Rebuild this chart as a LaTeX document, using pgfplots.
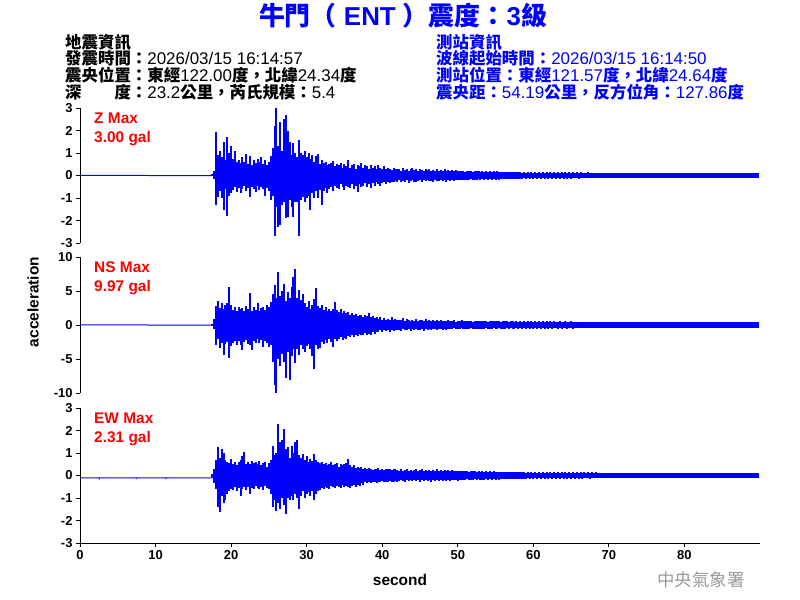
\documentclass[border=0pt]{standalone}
\usepackage{fontspec}
\setmainfont{Liberation Sans}
\newfontfamily\cjk{Noto Sans CJK TC}
\usepackage{pgfplots}
\usepackage{pgfplotstable}
\pgfplotsset{compat=1.18}
\definecolor{tblue}{RGB}{0,0,255}
\definecolor{tred}{RGB}{255,0,0}
\newcommand{\C}[1]{{\cjk\bfseries\fontsize{16.5}{16.5}\selectfont #1}}
\newcommand{\T}[1]{{\cjk\bfseries #1}}
\newcommand{\fs}[1]{\fontsize{#1}{#1}\selectfont}
\pgfplotstableread{
x zh zl nh nl eh el
17.50 0.05 -0.03 0.2 -0.1 0.05 -0.05
17.75 0.2 -0.15 0.9 -0.6 0.3 -0.35
18.00 1.95 -1.3 2.8 -3.0 0.7 -0.6
18.25 0.9 -0.95 3.6 -2.0 1.26 -1.41
18.50 1.1 -0.7 2.5 -3.4 0.8 -1.63
18.75 0.8 -1.0 3.3 -2.6 1.19 -0.9
19.00 1.5 -1.55 2.4 -4.4 1.0 -1.2
19.25 0.7 -0.6 2.9 -2.8 0.7 -1.1
19.50 1.7 -1.78 3.2 -2.5 0.6 -0.8
19.75 1.0 -0.9 5.6 -4.9 0.55 -0.7
20.00 1.3 -0.8 3.0 -3.1 0.75 -0.6
20.25 0.75 -0.65 2.2 -2.6 0.5 -0.65
20.50 1.1 -0.5 2.6 -2.3 0.6 -0.5
20.75 0.6 -0.75 2.0 -3.0 0.45 -0.7
21.00 0.7 -0.55 2.7 -2.4 0.6 -0.55
21.25 0.55 -0.8 2.3 -2.9 0.7 -0.89
21.50 0.8 -0.6 2.5 -3.7 0.85 -0.6
21.75 0.6 -0.45 2.1 -2.5 1.04 -0.5
22.00 0.96 -0.7 2.8 -2.2 0.5 -0.65
22.25 0.5 -0.55 2.4 -2.8 0.6 -0.5
22.50 0.85 -0.96 4.7 -3.0 0.5 -0.8
22.75 0.45 -0.5 2.0 -3.7 0.65 -0.55
23.00 0.7 -0.6 2.6 -2.3 0.55 -0.6
23.25 0.55 -0.75 2.2 -2.6 0.6 -0.45
23.50 0.75 -0.45 3.2 -2.1 0.5 -0.55
23.75 0.6 -0.65 2.1 -2.7 0.65 -0.6
24.00 0.8 -0.5 2.5 -2.2 0.45 -0.5
24.25 0.5 -0.6 2.7 -3.3 0.55 -0.65
24.50 0.7 -0.9 2.2 -2.4 0.6 -0.45
24.75 0.45 -0.55 3.0 -2.6 0.4 -0.55
25.00 0.6 -0.7 2.6 -3.2 0.55 -0.6
25.25 0.85 -1.1 3.4 -3.0 0.7 -0.8
25.50 1.2 -0.9 4.5 -5.5 1.33 -1.4
25.75 2.2 -2.67 5.9 -8.8 0.9 -1.1
26.00 3.0 -1.4 4.0 -10.0 1.0 -1.56
26.25 1.3 -2.3 7.8 -5.0 2.3 -1.2
26.50 2.37 -2.2 4.2 -6.0 1.5 -1.5
26.75 1.1 -1.3 5.0 -4.3 1.6 -1.0
27.00 2.5 -1.2 6.1 -5.5 2.07 -1.3
27.25 2.67 -1.9 3.5 -7.8 1.2 -1.7
27.50 2.0 -1.85 4.8 -4.0 1.26 -1.0
27.75 1.48 -1.1 3.9 -8.1 0.8 -1.1
28.00 0.9 -1.4 5.6 -4.5 1.33 -0.9
28.25 1.45 -1.85 7.1 -3.6 1.0 -1.11
28.50 1.0 -1.2 8.3 -5.6 1.48 -0.8
28.75 0.8 -1.2 4.0 -3.5 1.56 -1.0
29.00 1.56 -2.67 5.1 -4.4 0.9 -1.48
29.25 1.0 -1.1 3.7 -3.0 0.8 -0.9
29.50 0.9 -0.96 4.6 -3.6 0.96 -0.7
29.75 1.1 -1.2 3.2 -4.0 0.7 -1.0
30.00 0.8 -1.0 2.7 -3.1 0.85 -0.8
30.25 1.0 -0.9 3.5 -2.8 0.6 -0.75
30.50 0.75 -1.55 2.4 -3.6 0.75 -0.9
30.75 0.9 -0.8 3.0 -4.5 0.65 -0.7
31.00 0.6 -1.0 3.8 -6.4 0.96 -1.1
31.25 0.85 -0.7 5.4 -3.0 0.7 -0.8
31.50 0.95 -1.0 2.8 -3.5 0.6 -0.7
31.75 0.5 -0.65 2.5 -3.4 0.55 -0.65
32.00 0.7 -1.33 2.9 -2.5 0.6 -0.55
32.25 0.55 -0.7 2.2 -2.8 0.5 -0.6
32.50 0.6 -0.55 2.6 -2.2 0.55 -0.5
32.75 0.45 -0.8 2.0 -2.6 0.45 -0.55
33.00 0.5 -0.6 2.4 -2.1 0.5 -0.6
33.25 0.55 -0.5 2.1 -2.5 0.6 -0.45
33.50 0.65 -0.7 2.3 -3.2 0.45 -0.5
33.75 0.4 -0.45 3.4 -2.0 0.5 -0.55
34.00 0.5 -0.55 2.2 -2.4 0.55 -0.45
34.25 0.45 -0.6 1.9 -2.0 0.4 -0.5
34.50 0.55 -0.4 2.3 -1.8 0.5 -0.55
34.75 0.35 -0.5 1.8 -2.2 0.45 -0.4
35.00 0.5 -0.65 2.0 -1.9 0.5 -0.5
35.25 0.4 -0.45 1.7 -2.1 0.55 -0.45
35.50 0.7 -0.5 1.9 -1.6 0.74 -0.5
35.75 0.35 -0.55 1.5 -1.8 0.45 -0.55
36.00 0.45 -0.4 1.7 -1.5 0.4 -0.45
36.25 0.5 -0.6 1.4 -1.7 0.45 -0.4
36.50 0.3 -0.45 1.6 -1.4 0.35 -0.5
36.75 0.45 -0.74 1.3 -1.6 0.4 -0.4
37.00 0.4 -0.4 1.5 -1.3 0.35 -0.45
37.25 0.55 -0.5 1.4 -1.5 0.4 -0.35
37.50 0.35 -0.45 1.2 -1.4 0.3 -0.4
37.75 0.45 -0.35 1.5 -1.2 0.35 -0.3
38.00 0.4 -0.5 1.3 -1.4 0.3 -0.35
38.25 0.3 -0.4 1.7 -1.3 0.35 -0.3
38.50 0.45 -0.55 1.2 -1.5 0.3 -0.35
38.75 0.35 -0.35 1.3 -1.1 0.25 -0.3
39.00 0.4 -0.45 1.1 -1.3 0.3 -0.3
39.25 0.3 -0.3 1.2 -1.0 0.28 -0.32
39.50 0.45 -0.4 0.9 -1.1 0.32 -0.28
39.75 0.35 -0.45 1.2 -0.8 0.25 -0.3
40.00 0.3 -0.35 0.8 -1.0 0.3 -0.25
40.25 0.4 -0.3 1.0 -0.8 0.25 -0.3
40.50 0.3 -0.4 0.8 -0.9 0.3 -0.28
40.75 0.35 -0.3 0.9 -0.7 0.27 -0.3
41.00 0.3 -0.35 0.7 -1.0 0.3 -0.25
41.25 0.25 -0.3 1.2 -0.8 0.25 -0.3
41.50 0.35 -0.3 0.7 -0.9 0.28 -0.27
41.75 0.3 -0.25 0.9 -0.7 0.3 -0.25
42.00 0.3 -0.3 0.7 -0.8 0.25 -0.28
42.25 0.28 -0.22 0.8 -0.7 0.22 -0.25
42.50 0.22 -0.3 0.7 -0.9 0.27 -0.2
42.75 0.35 -0.25 1.0 -0.6 0.2 -0.24
43.00 0.25 -0.28 0.6 -0.8 0.25 -0.3
43.25 0.3 -0.2 0.9 -0.7 0.3 -0.22
43.50 0.2 -0.32 0.7 -0.6 0.22 -0.26
43.75 0.27 -0.25 0.6 -0.9 0.26 -0.2
44.00 0.32 -0.22 0.8 -0.65 0.2 -0.25
44.25 0.24 -0.27 0.65 -0.75 0.24 -0.22
44.50 0.28 -0.3 0.9 -0.6 0.28 -0.26
44.75 0.22 -0.24 0.6 -0.8 0.2 -0.2
45.00 0.3 -0.2 0.75 -0.7 0.23 -0.27
45.25 0.25 -0.28 0.7 -0.6 0.27 -0.21
45.50 0.2 -0.22 0.6 -0.85 0.2 -0.24
45.75 0.27 -0.26 0.85 -0.6 0.25 -0.2
46.00 0.23 -0.2 0.6 -0.7 0.21 -0.25
46.25 0.29 -0.25 0.7 -0.55 0.26 -0.22
46.50 0.2 -0.23 0.55 -0.75 0.2 -0.27
46.75 0.26 -0.28 0.8 -0.6 0.24 -0.2
47.00 0.22 -0.2 0.6 -0.65 0.22 -0.23
47.25 0.28 -0.24 0.7 -0.7 0.27 -0.21
47.50 0.2 -0.26 0.55 -0.6 0.2 -0.25
47.75 0.25 -0.2 0.75 -0.55 0.23 -0.2
48.00 0.22 -0.25 0.6 -0.75 0.21 -0.24
48.25 0.27 -0.22 0.65 -0.6 0.25 -0.2
48.50 0.2 -0.27 0.55 -0.7 0.2 -0.23
48.75 0.24 -0.2 0.7 -0.55 0.24 -0.21
49.00 0.21 -0.24 0.6 -0.65 0.2 -0.25
49.25 0.26 -0.21 0.55 -0.6 0.26 -0.2
49.50 0.2 -0.25 0.7 -0.5 0.2 -0.22
49.75 0.23 -0.2 0.5 -0.65 0.22 -0.2
50.00 0.2 -0.22 0.6 -0.55 0.19 -0.23
50.25 0.22 -0.18 0.55 -0.65 0.22 -0.18
50.50 0.18 -0.22 0.7 -0.5 0.18 -0.21
50.75 0.21 -0.19 0.55 -0.6 0.21 -0.18
51.00 0.17 -0.21 0.6 -0.55 0.18 -0.2
51.25 0.2 -0.18 0.55 -0.65 0.2 -0.17
51.50 0.18 -0.2 0.65 -0.6 0.17 -0.2
51.75 0.22 -0.17 0.6 -0.5 0.2 -0.18
52.00 0.17 -0.2 0.5 -0.65 0.18 -0.19
52.25 0.2 -0.18 0.65 -0.55 0.19 -0.17
52.50 0.18 -0.21 0.55 -0.6 0.17 -0.2
52.75 0.19 -0.17 0.6 -0.55 0.2 -0.17
53.00 0.16 -0.2 0.55 -0.6 0.17 -0.19
53.25 0.2 -0.17 0.6 -0.55 0.19 -0.18
53.50 0.17 -0.19 0.55 -0.6 0.16 -0.2
53.75 0.19 -0.16 0.65 -0.5 0.19 -0.16
54.00 0.16 -0.19 0.5 -0.6 0.17 -0.18
54.25 0.19 -0.17 0.6 -0.55 0.18 -0.17
54.50 0.17 -0.18 0.55 -0.6 0.16 -0.19
54.75 0.18 -0.16 0.6 -0.5 0.18 -0.16
55.00 0.16 -0.18 0.6 -0.55 0.16 -0.18
55.25 0.18 -0.15 0.55 -0.65 0.17 -0.16
55.50 0.15 -0.18 0.65 -0.5 0.15 -0.18
55.75 0.17 -0.15 0.5 -0.6 0.17 -0.15
56.00 0.15 -0.17 0.6 -0.55 0.15 -0.17
56.25 0.17 -0.15 0.55 -0.6 0.16 -0.15
56.50 0.14 -0.17 0.65 -0.5 0.15 -0.17
56.75 0.16 -0.14 0.5 -0.6 0.17 -0.14
57.00 0.15 -0.16 0.6 -0.5 0.14 -0.16
57.25 0.16 -0.14 0.55 -0.6 0.16 -0.15
57.50 0.14 -0.16 0.5 -0.55 0.14 -0.16
57.75 0.16 -0.14 0.6 -0.5 0.16 -0.14
58.00 0.14 -0.15 0.5 -0.6 0.14 -0.16
58.25 0.15 -0.14 0.6 -0.5 0.15 -0.14
58.50 0.13 -0.15 0.5 -0.55 0.14 -0.15
58.75 0.15 -0.13 0.55 -0.5 0.15 -0.14
59.00 0.13 -0.15 0.5 -0.55 0.13 -0.15
59.25 0.15 -0.13 0.6 -0.5 0.15 -0.13
59.50 0.13 -0.14 0.5 -0.6 0.13 -0.15
59.75 0.14 -0.13 0.55 -0.5 0.15 -0.13
60.00 0.13 -0.14 0.5 -0.55 0.13 -0.14
60.25 0.15 -0.13 0.55 -0.5 0.14 -0.13
60.50 0.13 -0.15 0.5 -0.55 0.13 -0.15
60.75 0.16 -0.13 0.6 -0.45 0.15 -0.13
61.00 0.13 -0.14 0.45 -0.6 0.13 -0.14
61.25 0.15 -0.13 0.55 -0.5 0.16 -0.13
61.50 0.13 -0.16 0.5 -0.55 0.13 -0.15
61.75 0.14 -0.13 0.6 -0.5 0.14 -0.13
62.00 0.13 -0.14 0.5 -0.6 0.13 -0.14
62.25 0.15 -0.12 0.55 -0.45 0.15 -0.13
62.50 0.12 -0.14 0.45 -0.55 0.13 -0.15
62.75 0.14 -0.13 0.6 -0.5 0.14 -0.13
63.00 0.13 -0.15 0.5 -0.5 0.13 -0.14
63.25 0.15 -0.12 0.45 -0.55 0.15 -0.13
63.50 0.12 -0.14 0.55 -0.45 0.13 -0.14
63.75 0.14 -0.13 0.5 -0.55 0.14 -0.13
64.00 0.13 -0.14 0.45 -0.5 0.13 -0.15
64.25 0.14 -0.12 0.55 -0.45 0.15 -0.13
64.50 0.12 -0.14 0.5 -0.55 0.13 -0.14
64.75 0.15 -0.13 0.45 -0.5 0.14 -0.13
65.00 0.13 -0.15 0.55 -0.45 0.13 -0.14
65.25 0.14 -0.12 0.45 -0.55 0.14 -0.13
65.50 0.12 -0.13 0.5 -0.45 0.13 -0.14
65.75 0.14 -0.12 0.45 -0.5 0.15 -0.12
66.00 0.13 -0.14 0.5 -0.45 0.12 -0.14
66.25 0.14 -0.12 0.45 -0.45 0.14 -0.13
66.50 0.12 -0.13 0.5 -0.5 0.13 -0.14
66.75 0.13 -0.12 0.45 -0.45 0.14 -0.12
67.00 0.12 -0.13 0.5 -0.45 0.12 -0.13
67.25 0.14 -0.12 0.45 -0.5 0.14 -0.13
67.50 0.12 -0.13 0.5 -0.45 0.13 -0.14
67.75 0.13 -0.11 0.45 -0.45 0.14 -0.12
68.00 0.11 -0.13 0.5 -0.45 0.12 -0.13
68.25 0.13 -0.12 0.45 -0.5 0.14 -0.12
68.50 0.12 -0.13 0.45 -0.45 0.12 -0.13
68.75 0.13 -0.11 0.5 -0.4 0.13 -0.12
69.00 0.11 -0.13 0.4 -0.45 0.12 -0.13
69.25 0.13 -0.12 0.45 -0.45 0.13 -0.12
69.50 0.12 -0.13 0.45 -0.4 0.12 -0.13
69.75 0.13 -0.11 0.4 -0.45 0.13 -0.12
70.00 0.11 -0.12 0.45 -0.4 0.12 -0.13
70.25 0.13 -0.11 0.4 -0.45 0.13 -0.11
70.50 0.11 -0.12 0.45 -0.4 0.11 -0.13
70.75 0.12 -0.11 0.4 -0.4 0.13 -0.12
71.00 0.11 -0.12 0.45 -0.45 0.12 -0.13
71.25 0.12 -0.1 0.4 -0.4 0.13 -0.11
71.50 0.1 -0.12 0.45 -0.4 0.11 -0.13
71.75 0.12 -0.11 0.4 -0.45 0.13 -0.11
72.00 0.11 -0.11 0.45 -0.4 0.12 -0.12
72.25 0.13 -0.1 0.4 -0.45 0.13 -0.12
72.50 0.11 -0.12 0.5 -0.4 0.11 -0.13
72.75 0.12 -0.11 0.4 -0.4 0.13 -0.11
73.00 0.1 -0.12 0.45 -0.45 0.12 -0.13
73.25 0.12 -0.11 0.4 -0.4 0.13 -0.11
73.50 0.11 -0.12 0.45 -0.4 0.11 -0.12
73.75 0.12 -0.1 0.4 -0.45 0.13 -0.12
74.00 0.11 -0.12 0.45 -0.4 0.12 -0.13
74.25 0.13 -0.11 0.4 -0.4 0.13 -0.11
74.50 0.11 -0.12 0.45 -0.45 0.11 -0.13
74.75 0.12 -0.11 0.4 -0.4 0.13 -0.12
75.00 0.11 -0.12 0.45 -0.4 0.12 -0.13
75.25 0.12 -0.1 0.4 -0.45 0.13 -0.11
75.50 0.1 -0.12 0.45 -0.4 0.11 -0.13
75.75 0.12 -0.11 0.4 -0.4 0.13 -0.11
76.00 0.11 -0.11 0.45 -0.45 0.12 -0.12
76.25 0.13 -0.11 0.4 -0.4 0.13 -0.11
76.50 0.11 -0.12 0.45 -0.4 0.11 -0.13
76.75 0.12 -0.11 0.4 -0.45 0.13 -0.12
77.00 0.11 -0.12 0.45 -0.4 0.12 -0.13
77.25 0.12 -0.1 0.4 -0.4 0.13 -0.11
77.50 0.1 -0.12 0.45 -0.45 0.11 -0.13
77.75 0.12 -0.11 0.4 -0.4 0.13 -0.11
78.00 0.11 -0.11 0.45 -0.4 0.12 -0.12
78.25 0.13 -0.11 0.4 -0.45 0.13 -0.11
78.50 0.11 -0.12 0.45 -0.4 0.11 -0.13
78.75 0.12 -0.11 0.4 -0.4 0.13 -0.12
79.00 0.11 -0.12 0.45 -0.45 0.12 -0.13
79.25 0.12 -0.1 0.4 -0.4 0.13 -0.11
79.50 0.1 -0.12 0.45 -0.4 0.11 -0.13
79.75 0.12 -0.11 0.4 -0.45 0.13 -0.11
80.00 0.11 -0.11 0.45 -0.4 0.12 -0.12
80.25 0.13 -0.11 0.4 -0.4 0.13 -0.11
80.50 0.11 -0.12 0.45 -0.45 0.11 -0.13
80.75 0.12 -0.11 0.4 -0.4 0.13 -0.12
81.00 0.11 -0.12 0.45 -0.4 0.12 -0.13
81.25 0.12 -0.1 0.4 -0.45 0.13 -0.11
81.50 0.1 -0.12 0.45 -0.4 0.11 -0.13
81.75 0.12 -0.11 0.4 -0.4 0.13 -0.11
82.00 0.11 -0.11 0.45 -0.45 0.12 -0.12
82.25 0.13 -0.11 0.4 -0.4 0.13 -0.11
82.50 0.11 -0.12 0.45 -0.4 0.11 -0.13
82.75 0.12 -0.11 0.4 -0.45 0.13 -0.12
83.00 0.11 -0.12 0.45 -0.4 0.12 -0.13
83.25 0.12 -0.1 0.4 -0.4 0.13 -0.11
83.50 0.1 -0.12 0.45 -0.45 0.11 -0.13
83.75 0.12 -0.11 0.4 -0.4 0.13 -0.11
84.00 0.11 -0.11 0.45 -0.4 0.12 -0.12
84.25 0.13 -0.11 0.4 -0.45 0.13 -0.11
84.50 0.11 -0.12 0.45 -0.4 0.11 -0.13
84.75 0.12 -0.11 0.4 -0.4 0.13 -0.12
85.00 0.11 -0.12 0.45 -0.45 0.12 -0.13
85.25 0.12 -0.1 0.4 -0.4 0.13 -0.11
85.50 0.1 -0.12 0.45 -0.4 0.11 -0.13
85.75 0.12 -0.11 0.4 -0.45 0.13 -0.11
86.00 0.11 -0.11 0.45 -0.4 0.12 -0.12
86.25 0.13 -0.11 0.4 -0.4 0.13 -0.11
86.50 0.11 -0.12 0.45 -0.45 0.11 -0.13
86.75 0.12 -0.11 0.4 -0.4 0.13 -0.12
87.00 0.11 -0.12 0.45 -0.4 0.12 -0.13
87.25 0.12 -0.1 0.4 -0.45 0.13 -0.11
87.50 0.1 -0.12 0.45 -0.4 0.11 -0.13
87.75 0.12 -0.11 0.4 -0.4 0.13 -0.11
88.00 0.11 -0.11 0.45 -0.45 0.12 -0.12
88.25 0.13 -0.11 0.4 -0.4 0.13 -0.11
88.50 0.11 -0.12 0.45 -0.4 0.11 -0.13
88.75 0.12 -0.11 0.4 -0.45 0.13 -0.12
89.00 0.11 -0.12 0.45 -0.4 0.12 -0.13
89.25 0.12 -0.1 0.4 -0.4 0.13 -0.11
89.50 0.1 -0.12 0.45 -0.45 0.11 -0.13
89.75 0.12 -0.11 0.4 -0.4 0.13 -0.11
}\seis
\pgfplotsset{
  seis/.style={
    scale only axis, width=680bp, height=135bp,
    xmin=0, xmax=90,
    axis y line*=left, axis x line*=bottom,
    tick align=outside, major tick length=4bp,
    tick style={black, line width=0.8bp},
    axis line style={black, line width=0.8bp, -},
    /pgf/number format/assume math mode=true,
    tick label style={font=\bfseries\fs{13}},
    minor tick num=0,
  },
  noxaxis/.style={xtick=\empty, x axis line style={draw=none}},
  comb/.style={ycomb, tblue, line width=2.1bp},
  base/.style={tblue, line width=1bp},
}
\begin{document}
\begin{tikzpicture}
\useasboundingbox (0,0) rectangle (800bp,-600bp);
% title
\node[anchor=base, text=tblue, font=\bfseries\fs{26}] at (403bp,-25bp)
  {\T{牛門（} ENT \T{）震度：}3\T{級}};
% info blocks
\begin{scope}[every node/.style={anchor=base west, inner sep=0pt, font=\fs{17}}]
\node at (65bp,-48bp) {\C{地震資訊}};
\node at (65bp,-64bp) {\C{發震時間：}2026/03/15 16:14:57};
\node at (65bp,-81bp) {\C{震央位置：東經}122.00\C{度，北緯}24.34\C{度}};
\node at (65bp,-98bp) {\C{深　　度：}23.2\C{公里，芮氏規模：}5.4};
\node[text=tblue] at (436bp,-48bp) {\C{測站資訊}};
\node[text=tblue] at (436bp,-64bp) {\C{波線起始時間：}2026/03/15 16:14:50};
\node[text=tblue] at (436bp,-81bp) {\C{測站位置：東經}121.57\C{度，北緯}24.64\C{度}};
\node[text=tblue] at (436bp,-98bp) {\C{震央距：}54.19\C{公里，反方位角：}127.86\C{度}};
\end{scope}
% panel Z
\begin{axis}[seis, noxaxis, at={(80bp,-108bp)}, anchor=north west,
  ymin=-3, ymax=3, ytick={-3,-2,-1,0,1,2,3}]
\addplot[base] coordinates {(0,0) (6,0.01) (12,-0.01) (17.5,0) (17.6,0.02)};
\addplot[comb] table[x=x, y=zh] {\seis};
\addplot[comb] table[x=x, y=zl] {\seis};
\end{axis}
% panel NS
\begin{axis}[seis, noxaxis, at={(80bp,-257bp)}, anchor=north west, height=136bp,
  ymin=-10, ymax=10, ytick={-10,-5,0,5,10}]
\addplot[base] coordinates {(0,0) (6,0.03) (12,-0.03) (17.5,0) (17.6,0.05)};
\addplot[comb] table[x=x, y=nh] {\seis};
\addplot[comb] table[x=x, y=nl] {\seis};
\end{axis}
% panel EW
\begin{axis}[seis, at={(80bp,-408bp)}, anchor=north west,
  ymin=-3, ymax=3, ytick={-3,-2,-1,0,1,2,3},
  xtick={0,10,20,30,40,50,60,70,80}]
\addplot[base] coordinates {(0,-0.1) (2.5,-0.1) (2.55,-0.14) (2.6,-0.1) (7.4,-0.1) (7.45,-0.13) (7.5,-0.1) (11.3,-0.1) (11.35,-0.13) (11.4,-0.1) (17.5,-0.1) (17.6,0) (89.8,0)};
\addplot[comb] table[x=x, y=eh] {\seis};
\addplot[comb] table[x=x, y=el] {\seis};
\end{axis}
% red labels
\begin{scope}[every node/.style={anchor=base west, inner sep=0pt, text=tred, font=\bfseries\fs{15.5}}]
\node at (94bp,-123.5bp) {Z Max};
\node at (94bp,-142bp) {3.00 gal};
\node at (94bp,-272.5bp) {NS Max};
\node at (94bp,-291bp) {9.97 gal};
\node at (94bp,-423.5bp) {EW Max};
\node at (94bp,-442bp) {2.31 gal};
\end{scope}
% axis labels
\node[rotate=90, font=\bfseries\fs{15.5}] at (33bp,-302bp) {acceleration};
\node[font=\bfseries\fs{15.5}] at (400bp,-580bp) {second};
% watermark
\node[text=black!40, font=\fs{17.5}] at (701bp,-580bp) {{\cjk 中央氣象署}};
\end{tikzpicture}
\end{document}
